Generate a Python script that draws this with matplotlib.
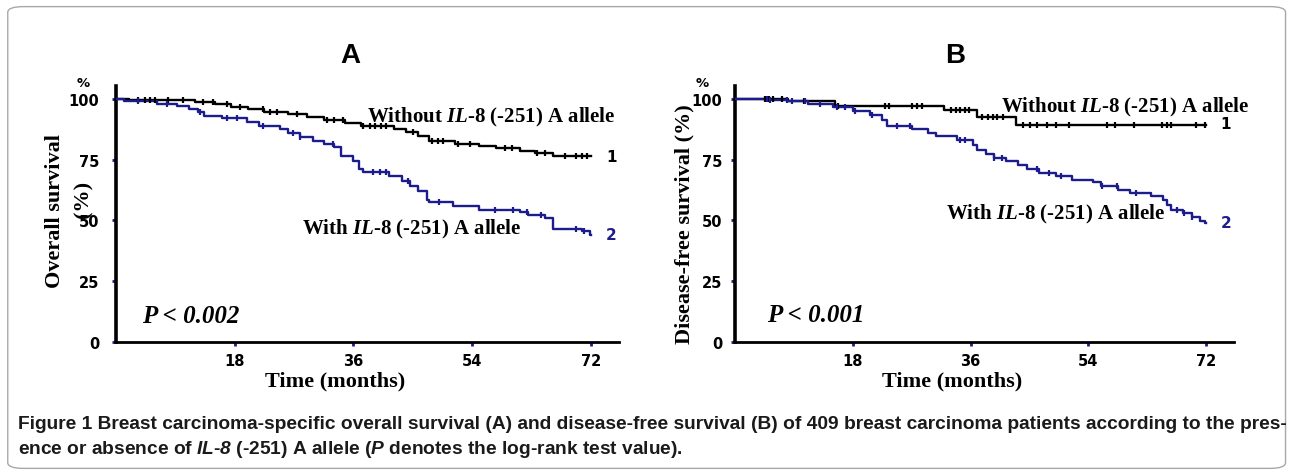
import numpy as np
import matplotlib
matplotlib.use("Agg")
import matplotlib.pyplot as plt
from matplotlib.patches import FancyBboxPatch

# ---- data (months, survival %) ----
# panel A: overall survival
a_without_t = [0, 2, 12, 15, 17.5, 20, 22.5, 26, 29, 31.5, 34.7, 37.2, 42.1, 44, 45.8,
               47.4, 51.4, 55.1, 57.6, 61.3, 63.5, 66.3]
a_without_s = [100, 99.4, 98.8, 97.8, 96.8, 95.7, 94.7, 93.8, 92.7, 91.2, 90.0, 88.9, 87.8,
               86.4, 84.7, 82.7, 81.6, 80.6, 79.7, 78.6, 77.6, 76.5]
a_without_cens = [3.3, 4.4, 5.2, 5.9, 7.9, 10.2, 13.2, 14.7, 16.8, 18.8, 22.3, 23.3, 24.4,
                  27.4, 32, 33, 34.4, 37.4, 38.5, 39.3, 40.1, 40.9, 45, 47.9, 48.8, 49.5,
                  51.8, 53.6, 58.9, 60, 63.9, 65, 68, 69.8, 70.6, 71.4]
a_with_t = [0, 1.2, 6.2, 9.3, 11.1, 12.4, 13.3, 16.1, 19.8, 21.7, 24.8, 26.0, 27.9, 29.9,
            31.6, 33.0, 34.1, 35.9, 36.8, 37.4, 41.4, 43.3, 44.6, 45.8, 47.1, 47.5, 51.1,
            55.1, 61.3, 62.5, 65.0, 66.3, 70.7, 71.8]
a_with_s = [100, 99.0, 98.1, 97.0, 95.9, 94.5, 93.1, 92.0, 90.7, 89.0, 87.8, 86.0, 84.4,
            82.9, 81.5, 80.2, 76.4, 74.3, 71.0, 70.0, 68.2, 66.1, 64.3, 62.1, 58.6, 57.5,
            55.8, 54.5, 53.4, 52.1, 51.0, 46.6, 45.7, 44.2]
a_with_cens = [3.3, 7.7, 12.7, 16.8, 18.3, 22.3, 26.8, 27.9, 32.9, 39, 40, 41, 44.2, 49,
               57.4, 60.2, 62.3, 64.4, 69.8, 70.9]

# panel B: disease-free survival
b_without_t = [0, 8.1, 15.3, 32, 37, 43]
b_without_s = [100, 99.2, 97.3, 95.3, 92.6, 89.4]
b_without_cens = [4.6, 5.2, 5.8, 7.2, 10.5, 15.7, 22.9, 23.6, 27, 27.8, 28.5, 33, 33.7,
                  34.4, 35.1, 35.8, 37.8, 38.6, 39.4, 40.1, 40.9, 44, 45, 46.2, 47.7,
                  49.1, 51.1, 56.9, 58, 61, 65.3, 66, 66.6, 70.4, 71.8]
b_with_t = [0, 5, 8, 11.2, 15, 18.1, 20.7, 22.5, 23.2, 27, 29.5, 30.7, 33.9, 36.4, 37,
            38.3, 39.6, 41.4, 43.3, 44.6, 46.5, 49, 51.5, 54.7, 55.9, 58.5, 60.4, 63.5,
            65.4, 66, 66.6, 68.5, 69.8, 71, 71.8]
b_with_s = [100, 99.5, 99.0, 98.0, 96.7, 94.9, 93.6, 91.5, 89.0, 87.7, 86.0, 84.6, 83.0,
            81.2, 79.2, 77.4, 75.7, 74.6, 73.0, 71.2, 69.5, 68.2, 66.8, 65.7, 64.3, 62.7,
            61.3, 59.9, 58.6, 56.5, 54.2, 53.1, 51.4, 49.7, 49.0]
b_with_cens = [4.9, 5.3, 7.9, 8.7, 10.7, 13, 15.6, 16.8, 18.3, 20.9, 24.7, 26.7, 34.3,
               35.1, 39.6, 40.8, 46.2, 48, 49.8, 56.1, 58.3, 61.3, 67.6, 68.6, 69.8]

x_ticks = [18, 36, 54, 72]
y_ticks = [0, 25, 50, 75, 100]
follow_up = 72

NAVY = "#1c1c8c"
SERIF = "Liberation Serif"

plt.rcParams["mathtext.fontset"] = "custom"
plt.rcParams["mathtext.rm"] = "Liberation Serif:bold"
plt.rcParams["mathtext.it"] = "Liberation Serif:italic:bold"
plt.rcParams["mathtext.sf"] = "Liberation Sans:italic:bold"


def km_curve(ax, t, s, cens, color):
    t = np.asarray(t, float)
    s = np.asarray(s, float)
    ax.step(np.append(t, follow_up), np.append(s, s[-1]), where="post",
            color=color, lw=1.7, zorder=3)
    idx = np.searchsorted(t, cens, side="right") - 1
    ax.plot(cens, s[idx], ls="none", marker="|", ms=5, mew=1.6, color=color, zorder=4)


def setup_axes(ax, ypad):
    ax.set_xlim(0, 76.2)
    ax.set_ylim(0, 105.2)
    for side in ("top", "right"):
        ax.spines[side].set_visible(False)
    ax.spines["left"].set_linewidth(2.6)
    ax.spines["bottom"].set_linewidth(2.0)
    ax.set_xticks(x_ticks)
    ax.set_yticks(y_ticks)
    ax.set_xticklabels([str(v) for v in x_ticks])
    ax.set_yticklabels([str(v) for v in y_ticks])
    ax.tick_params(length=3, width=2, color=NAVY, direction="out")
    ax.tick_params(axis="y", pad=ypad)
    ax.tick_params(axis="x", pad=5)
    for lab in ax.get_xticklabels() + ax.get_yticklabels():
        lab.set_fontweight("bold")
        lab.set_fontsize(10.5)
        lab.set_family("DejaVu Sans")
    ax.text(-5.0, 106.8, "%", ha="center", va="center", fontsize=9.5,
            fontweight="bold", family="DejaVu Sans", clip_on=False)


fig = plt.figure(figsize=(12.92, 4.77), dpi=100)

axA = fig.add_axes([0.0898, 0.2809, 0.389, 0.536])
axB = fig.add_axes([0.5689, 0.2809, 0.386, 0.536])

setup_axes(axA, 9)
setup_axes(axB, 6)

km_curve(axA, a_without_t, a_without_s, a_without_cens, "black")
km_curve(axA, a_with_t, a_with_s, a_with_cens, NAVY)
km_curve(axB, b_without_t, b_without_s, b_without_cens, "black")
km_curve(axB, b_with_t, b_with_s, b_with_cens, NAVY)

lab_kw = dict(fontsize=15, family=SERIF, fontweight="bold", va="center", ha="left")
without_lab = r"Without $\mathit{IL}$-$\mathit{8}$ (-251) A allele"
with_lab = r"With $\mathit{IL}$-$\mathit{8}$ (-251) A allele"

axA.text(38, 92.8, without_lab, **lab_kw)
axA.text(28.2, 46.6, with_lab, **lab_kw)
axB.text(40.7, 97.0, without_lab, **lab_kw)
axB.text(32.2, 52.8, with_lab, **lab_kw)

num_kw = dict(fontsize=11, family="DejaVu Sans", fontweight="bold", va="center", ha="center")
axA.text(75.1, 76.4, "1", color="black", **num_kw)
axA.text(75.1, 44.4, "2", color=NAVY, **num_kw)
axB.text(75.0, 89.8, "1", color="black", **num_kw)
axB.text(75.0, 49.2, "2", color=NAVY, **num_kw)

p_kw = dict(fontsize=18, family=SERIF, fontweight="bold", fontstyle="italic",
            va="center", ha="left")
axA.text(4.0, 10.8, "P < 0.002", **p_kw)
axB.text(4.9, 11.2, "P < 0.001", **p_kw)

# panel letters
fig.text(0.271, 0.882, "A", fontsize=20, fontweight="bold", family="Liberation Sans",
         ha="center", va="center")
fig.text(0.739, 0.882, "B", fontsize=20, fontweight="bold", family="Liberation Sans",
         ha="center", va="center")

# axis titles
ax_kw = dict(fontsize=16, family=SERIF, fontweight="bold", ha="center", va="center")
fig.text(0.0426, 0.558, "Overall survival", rotation=90, **ax_kw)
fig.text(0.065, 0.581, "(%)", rotation=90, **ax_kw)
fig.text(0.530, 0.530, "Disease-free survival (%)", rotation=90, **ax_kw)
fig.text(0.259, 0.201, "Time (months)", **ax_kw)
fig.text(0.737, 0.201, "Time (months)", **ax_kw)

# caption
cap_kw = dict(family="Liberation Sans", fontweight="bold",
              ha="left", va="center", color="#1a1a1a")
line1 = fig.text(0.014, 0.111,
                 "Figure 1 Breast carcinoma-specific overall survival (A) and disease-free "
                 "survival (B) of 409 breast carcinoma patients according to the pres-",
                 fontsize=12, **cap_kw)
line2 = fig.text(0.014, 0.057,
                 r"ence or absence of $\mathsf{IL}$-$\mathsf{8}$ (-251) A allele "
                 r"($\mathsf{P}$ denotes the log-rank test value).",
                 fontsize=12, **cap_kw)

# scale caption font so the first line spans the frame width
fig.canvas.draw()
r = fig.canvas.get_renderer()
w = line1.get_window_extent(r).width
size = 12 * 1262.0 / w
line1.set_fontsize(size)
line2.set_fontsize(size)

frame = FancyBboxPatch((0.006, 0.016), 0.989, 0.968, boxstyle="round,pad=0,rounding_size=0.012",
                       transform=fig.transFigure, fc="none", ec="#a8a8a8", lw=1.0)
fig.patches.append(frame)

fig.savefig("out.png", dpi=100)
